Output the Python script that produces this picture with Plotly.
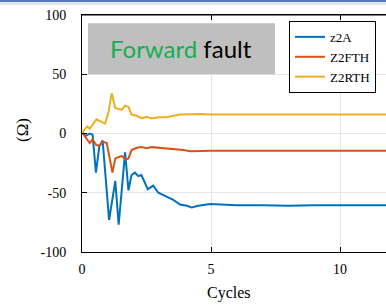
import plotly.graph_objects as go

# ---- data ----
t_z2a = [0, 0.15, 0.3, 0.41, 0.54, 0.67, 0.8, 1.05, 1.29, 1.42, 1.67, 1.8, 1.92,
         2.05, 2.18, 2.3, 2.55, 2.76, 2.96, 3.28, 3.54, 3.8, 4.06, 4.25, 4.5,
         4.96, 5.5, 6, 7, 8, 9, 10, 11, 12]
z2a = [1, -2, 0, -1, -33, -11, -6, -73, -40, -77, -16, -48, -35,
       -33, -36, -35, -47, -44, -50, -53, -56, -60, -61, -62.5, -61,
       -59.5, -60, -60.5, -60.5, -61, -60.5, -60.5, -60.5, -60.5]

t_fth = [0, 0.2, 0.3, 0.41, 0.56, 0.68, 0.83, 0.96, 1.18, 1.29, 1.54, 1.7, 1.8,
         1.92, 2.12, 2.31, 2.5, 2.7, 2.96, 3.28, 3.93, 4.2, 4.57, 5, 6, 7, 8,
         9, 10, 11, 12]
z2fth = [1, -5, -8, -5, -10, -10, -7, -8, -33, -21, -19, -22, -21,
         -14, -12, -11.5, -12.5, -11.5, -12, -12.5, -14, -15, -14.5, -14.5,
         -14.5, -14.5, -14.5, -14.5, -14.5, -14.5, -14.5]

t_rth = [0, 0.2, 0.3, 0.56, 0.89, 1.02, 1.15, 1.29, 1.54, 1.67, 1.8, 1.92, 2.12,
         2.31, 2.5, 2.7, 2.96, 3.28, 3.8, 4.57, 5, 6, 7, 8, 9, 10, 11, 12]
z2rth = [0.5, 6, 4, 12, 8.4, 17, 34, 21.6, 20, 23.5, 22.5, 16, 15,
         13, 14, 12.6, 13.8, 13.8, 16, 16.5, 16, 16, 16, 16, 16, 16, 16, 16]

x_ticks = [0, 5, 10]
x_tick_text = ["0", "5", "10"]
y_ticks = [-100, -50, 0, 50, 100]
y_tick_text = ["-100", "-50", "0", "50", "100"]

SERIF = "Times New Roman"

fig = go.Figure()
fig.add_trace(go.Scatter(x=t_z2a, y=z2a, mode="lines", name="z2A",
                         line=dict(color="#0072BD", width=2)))
fig.add_trace(go.Scatter(x=t_fth, y=z2fth, mode="lines", name="Z2FTH",
                         line=dict(color="#D95319", width=2)))
fig.add_trace(go.Scatter(x=t_rth, y=z2rth, mode="lines", name="Z2RTH",
                         line=dict(color="#EDB120", width=2)))

fig.update_layout(
    width=386, height=305,
    margin=dict(l=82, r=0, t=15, b=53),
    paper_bgcolor="white", plot_bgcolor="white",
    font=dict(family=SERIF, size=13, color="black"),
    showlegend=True,
    legend=dict(x=0.681, y=0.975, xanchor="left", yanchor="top",
                bgcolor="white", bordercolor="black", borderwidth=1,
                font=dict(family=SERIF, size=13, color="black"),
                tracegroupgap=0, itemwidth=30),
    xaxis=dict(range=[0, 11.78], tickmode="array", tickvals=x_ticks, ticktext=x_tick_text,
               ticks="inside", ticklen=5,
               tickcolor="black", showline=True, linecolor="black", linewidth=1,
               mirror="ticks", showgrid=True, gridcolor="#e6e6e6", gridwidth=1,
               zeroline=False, ticklabelstandoff=4,
               tickfont=dict(family=SERIF, size=14, color="black")),
    yaxis=dict(range=[-100, 100], tickmode="array", tickvals=y_ticks, ticktext=y_tick_text,
               ticks="inside", ticklen=5,
               tickcolor="black", showline=True, linecolor="black", linewidth=1,
               mirror=False, showgrid=True, gridcolor="#e6e6e6", gridwidth=1,
               zeroline=False, ticklabelstandoff=12,
               tickfont=dict(family=SERIF, size=14, color="black")),
)

# top edge line of the box
fig.add_shape(type="line", xref="paper", yref="paper", x0=0, x1=1, y0=1, y1=1,
              line=dict(color="black", width=1))

# gray text box
fig.add_shape(type="rect", xref="x", yref="y", x0=0.23, x1=7.48, y0=50, y1=93,
              fillcolor="#bfbfbf", line=dict(width=0), layer="above")
fig.add_annotation(xref="x", yref="y", x=3.85, y=71.5, showarrow=False,
                   text="<span style='color:#11b04f'>Forward</span> fault",
                   font=dict(family="Lato", size=24, color="black"))

# axis titles
fig.add_annotation(xref="paper", yref="paper", x=(229 - 82) / 304, y=-(293 - 252) / 237,
                   text="Cycles", showarrow=False, xanchor="center", yanchor="middle",
                   font=dict(family=SERIF, size=16))
fig.add_annotation(xref="paper", yref="paper", x=-(82 - 22) / 304, y=(252 - 130) / 237,
                   text="(Ω)", showarrow=False, xanchor="center", yanchor="middle",
                   textangle=-90, font=dict(family=SERIF, size=17))

# screenshot top bar
fig.add_shape(type="rect", xref="paper", yref="paper", x0=-0.3, x1=1.05,
              y0=1 + 10 / 237, y1=1 + 15 / 237, fillcolor="#e4e6ea", line=dict(width=0))
fig.add_shape(type="rect", xref="paper", yref="paper", x0=-0.3, x1=1.05,
              y0=1 + 13 / 237, y1=1 + 15 / 237, fillcolor="#5577bb", line=dict(width=0))

fig.write_html("out.html", config={"displayModeBar": False},
               post_script="document.body.style.margin='0px';document.body.style.padding='0px';")
